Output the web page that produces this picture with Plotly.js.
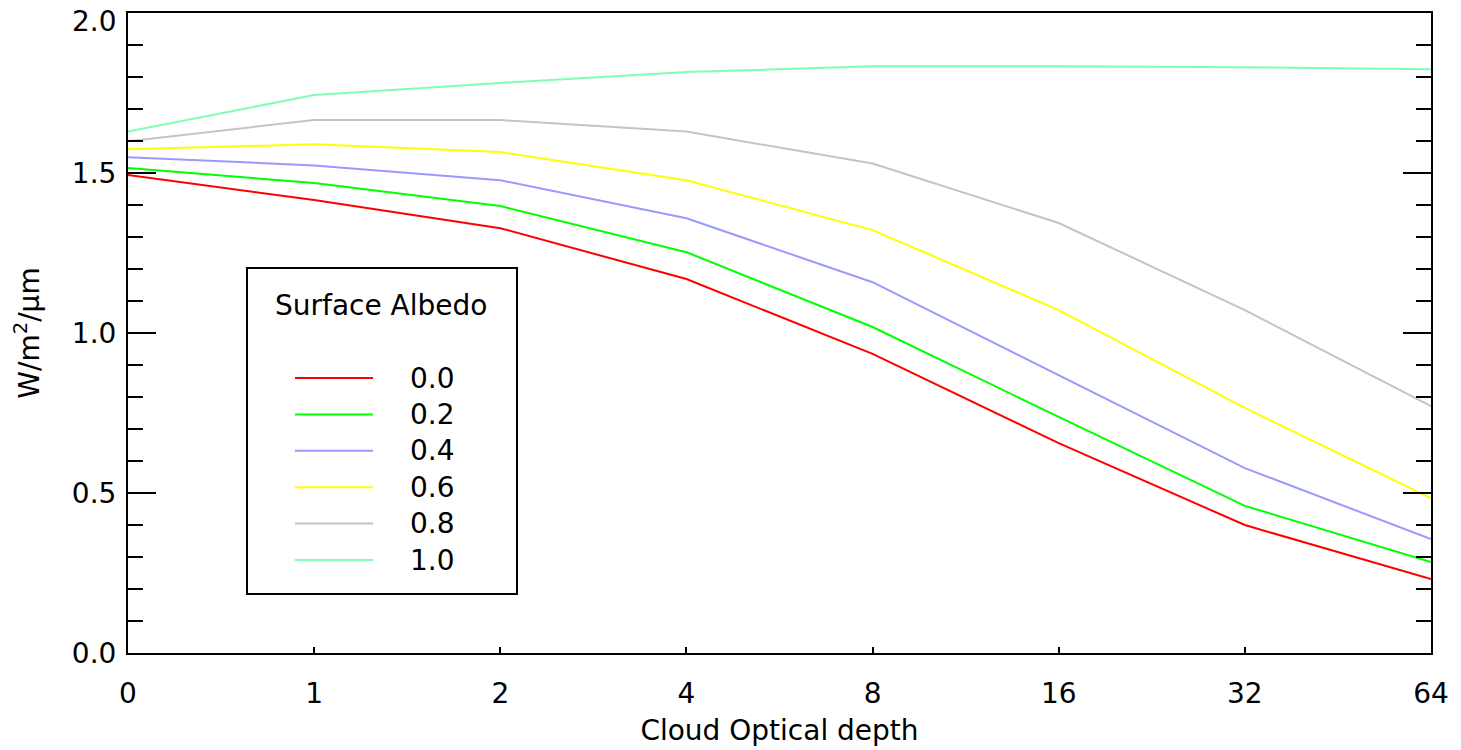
<!DOCTYPE html>
<html>
<head>
<meta charset="utf-8">
<script src="https://cdn.plot.ly/plotly-3.0.1.min.js"></script>
<style>
  html, body { margin: 0; padding: 0; background: #fff; }
  #chart { width: 1461px; height: 750px; }
</style>
</head>
<body>
<div id="chart"></div>
<script>
// ---- data ----
const opticalDepth = ['0', '1', '2', '4', '8', '16', '32', '64'];
const albedoLabels = ['0.0', '0.2', '0.4', '0.6', '0.8', '1.0'];
const albedo00 = [1.494, 1.416, 1.328, 1.169, 0.935, 0.656, 0.400, 0.231];
const albedo02 = [1.516, 1.469, 1.397, 1.253, 1.019, 0.738, 0.460, 0.284];
const albedo04 = [1.550, 1.524, 1.478, 1.359, 1.159, 0.869, 0.578, 0.356];
const albedo06 = [1.575, 1.590, 1.566, 1.478, 1.322, 1.072, 0.766, 0.484];
const albedo08 = [1.600, 1.666, 1.666, 1.630, 1.530, 1.344, 1.072, 0.772];
const albedo10 = [1.630, 1.744, 1.782, 1.816, 1.834, 1.834, 1.831, 1.825];
const seriesValues = [albedo00, albedo02, albedo04, albedo06, albedo08, albedo10];
const seriesColors = ['#ff0000', '#00ff00', '#9999ff', '#ffff00', '#c4c4c4', '#80ffb4'];
const yTickVals = [0, 0.5, 1.0, 1.5];
const yTickText = ['0.0', '0.5', '1.0', '1.5'];
const yTopLabel = '2.0';

// ---- layout geometry (pixels) ----
const W = 1461, H = 750;
const L = 128, R = 1431, T = 13, B = 653;
const px = x => (x - L) / (R - L);
const py = y => (B - y) / (B - T);
const FONT = 'DejaVu Sans, Liberation Sans, sans-serif';

const traces = seriesValues.map((vals, i) => ({
  type: 'scatter',
  mode: 'lines',
  x: opticalDepth,
  y: vals,
  name: albedoLabels[i],
  line: { color: seriesColors[i], width: 2 },
  showlegend: false,
  hoverinfo: 'skip'
}));

// custom legend box like the original
const shapes = [{
  type: 'rect', xref: 'paper', yref: 'paper',
  x0: px(247), x1: px(517), y0: py(594), y1: py(268),
  line: { color: '#000', width: 2 }, fillcolor: 'rgba(255,255,255,0)', layer: 'above'
}];
const annotations = [{
  xref: 'paper', yref: 'paper', x: px(381), y: py(305),
  text: 'Surface Albedo', showarrow: false, xanchor: 'center', yanchor: 'middle',
  font: { family: FONT, size: 28, color: '#000' }
}, {
  // top y label, placed just below the top edge as in the original
  xref: 'paper', yref: 'paper', x: px(119), y: py(22),
  text: yTopLabel, showarrow: false, xanchor: 'right', yanchor: 'middle',
  font: { family: FONT, size: 28, color: '#000' }
}];
albedoLabels.forEach((lab, i) => {
  const yy = 378 + i * 36.4;
  shapes.push({
    type: 'line', xref: 'paper', yref: 'paper',
    x0: px(295), x1: px(373), y0: py(yy), y1: py(yy),
    line: { color: seriesColors[i], width: 2 }
  });
  annotations.push({
    xref: 'paper', yref: 'paper', x: px(408), y: py(yy),
    text: lab, showarrow: false, xanchor: 'left', yanchor: 'middle',
    font: { family: FONT, size: 28, color: '#000' }
  });
});

const layout = {
  width: W, height: H,
  margin: { l: L, r: W - R, t: T, b: H - B, pad: 0 },
  paper_bgcolor: '#fff', plot_bgcolor: '#fff',
  font: { family: FONT, size: 28, color: '#000' },
  showlegend: false,
  xaxis: {
    type: 'category',
    range: [0, 7],
    showgrid: false, zeroline: false,
    showline: true, linecolor: '#000', linewidth: 2, mirror: true,
    ticks: 'inside', ticklen: 6, tickwidth: 2, tickcolor: '#000',
    ticklabelstandoff: 14,
    ticklabeloverflow: 'allow',
    tickfont: { family: FONT, size: 28, color: '#000' },
    title: { text: 'Cloud Optical depth', standoff: 12, font: { family: FONT, size: 28, color: '#000' } }
  },
  yaxis: {
    range: [0, 2.0006],
    tickmode: 'array',
    tickvals: yTickVals,
    ticktext: yTickText,
    showgrid: false, zeroline: false,
    showline: true, linecolor: '#000', linewidth: 2, mirror: 'ticks',
    ticks: 'inside', ticklen: 28, tickwidth: 2, tickcolor: '#000',
    minor: { ticks: 'inside', ticklen: 15, tickwidth: 2, tickcolor: '#000', dtick: 0.1, tick0: 0, showgrid: false },
    ticklabelstandoff: 4,
    ticklabeloverflow: 'allow',
    tickfont: { family: FONT, size: 28, color: '#000' },
    title: { text: 'W/m<sup>2</sup>/μm', standoff: 24, font: { family: FONT, size: 28, color: '#000' } }
  },
  shapes: shapes,
  annotations: annotations
};

Plotly.newPlot('chart', traces, layout, { staticPlot: true, displayModeBar: false });
</script>
</body>
</html>
